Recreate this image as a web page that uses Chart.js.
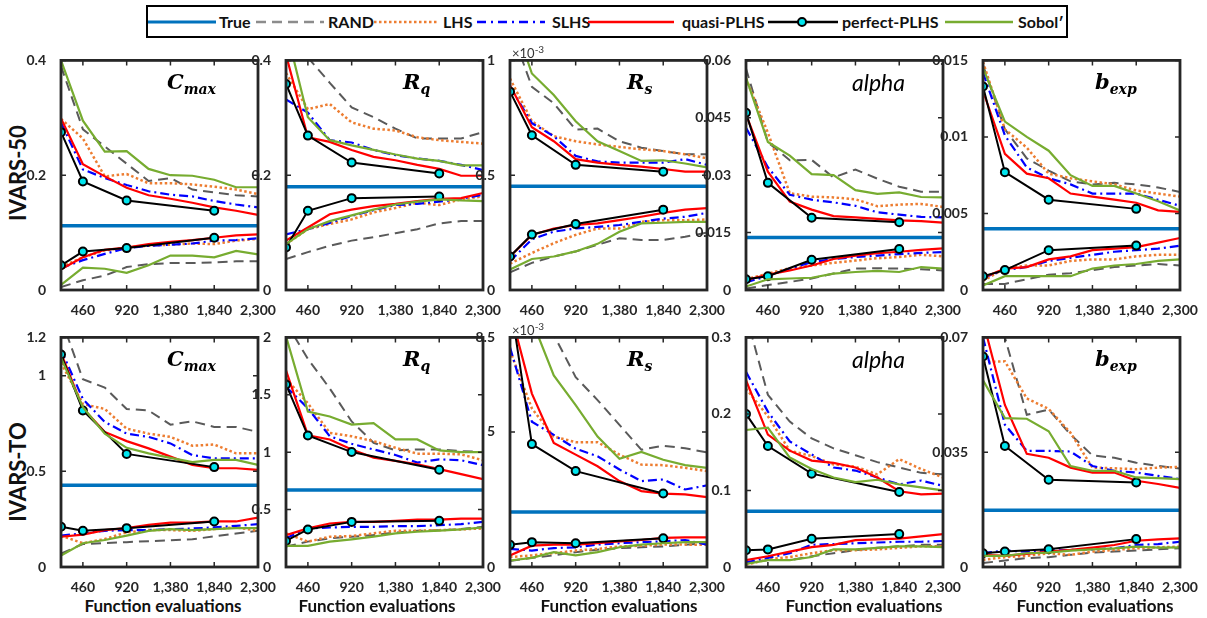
<!DOCTYPE html>
<html>
<head>
<meta charset="utf-8">
<script src="https://cdn.jsdelivr.net/npm/chart.js@4.4.1/dist/chart.umd.min.js"></script>
<style>
body { margin:0; background:#fff; width:1207px; height:618px; position:relative; overflow:hidden; font-family:Lato, 'Open Sans', sans-serif; color:#262626; }
canvas { position:absolute; }
.legend { position:absolute; left:146px; top:5px; width:922px; height:33px; box-sizing:border-box; border:2px solid #000; }
.legend svg, .legend span { position:absolute; }
.legend svg { top:9px; }
.legend span { top:5px; font-weight:bold; font-size:16px; color:#111; line-height:1.2; white-space:nowrap; }
.title { position:absolute; white-space:nowrap; line-height:1; color:#000; }
.title.math { font-family:'DejaVu Serif', serif; font-weight:bold; font-style:italic; font-size:21px; }
.title.math sub { font-size:14px; vertical-align:-5px; }
.title.plain { font-family:Lato, sans-serif; font-style:italic; font-size:23px; }
.mult { position:absolute; font-size:13px; color:#333; }
.mult sup { font-size:10px; }
.rowlab { position:absolute; font-weight:bold; font-size:22px; color:#111; transform:translate(-50%,-50%) rotate(-90deg); white-space:nowrap; }
.xlab { position:absolute; top:595px; font-weight:bold; font-size:17px; color:#111; transform:translateX(-50%); white-space:nowrap; }
</style>
</head>
<body>
<div class="legend">
  <svg style="left:0px" width="68" height="12"><line x1="0" y1="6" x2="68" y2="6" stroke="rgb(0,114,189)" stroke-width="3"/></svg>
  <span style="left:71px">True</span>
  <svg style="left:108px" width="68" height="12"><line x1="0" y1="6" x2="68" y2="6" stroke="rgb(140,140,140)" stroke-width="2.5" stroke-dasharray="10,6"/></svg>
  <span style="left:180px">RAND</span>
  <svg style="left:226px" width="64" height="12"><line x1="0" y1="6" x2="64" y2="6" stroke="rgb(237,125,49)" stroke-width="2.5" stroke-dasharray="2.5,2.5"/></svg>
  <span style="left:295px">LHS</span>
  <svg style="left:329px" width="68" height="12"><line x1="0" y1="6" x2="68" y2="6" stroke="rgb(0,0,255)" stroke-width="2.5" stroke-dasharray="9,5,2,5"/></svg>
  <span style="left:404px">SLHS</span>
  <svg style="left:440px" width="86" height="12"><line x1="0" y1="6" x2="86" y2="6" stroke="rgb(255,0,0)" stroke-width="2.5"/></svg>
  <span style="left:534px">quasi-PLHS</span>
  <svg style="left:620px" width="70" height="12"><line x1="0" y1="6" x2="70" y2="6" stroke="#000" stroke-width="2.5"/><circle cx="34" cy="6" r="4" fill="rgb(0,229,238)" stroke="#000" stroke-width="2"/></svg>
  <span style="left:694px">perfect-PLHS</span>
  <svg style="left:797px" width="68" height="12"><line x1="0" y1="6" x2="68" y2="6" stroke="rgb(119,172,48)" stroke-width="2.5"/></svg>
  <span style="left:870px">Sobol′</span>
</div>
<div class="rowlab" style="left:17px; top:173px">IVARS-50</div>
<div class="rowlab" style="left:17px; top:472px">IVARS-TO</div>
<script>
// panels: IVARS-50 Cmax, Rq, Rs(x1e-3), alpha, bexp, then IVARS-TO Cmax, Rq, Rs(x1e-3), alpha, bexp
const xs = [230, 460, 690, 920, 1150, 1380, 1610, 1840, 2070, 2300];
const xsPerfect = [230, 460, 920, 1840];
const xTicks = [460, 920, 1380, 1840, 2300];

const titles = [['C', 'max'], ['R', 'q'], ['R', 's'], ['alpha', ''], ['b', 'exp']];
const yMax = [0.4, 0.4, 1, 0.06, 0.015, 1.2, 2, 8.5, 0.3, 0.07];
const yTicks = [
  [0, 0.2, 0.4], [0, 0.2, 0.4], [0, 0.5, 1], [0, 0.015, 0.03, 0.045, 0.06], [0, 0.005, 0.01, 0.015],
  [0, 0.5, 1, 1.2], [0, 0.5, 1, 1.5, 2], [0, 5, 8.5], [0, 0.1, 0.2, 0.3], [0, 0.035, 0.07]
];

const trueValues = [0.112, 0.18, 0.452, 0.0137, 0.004, 0.427, 0.671, 2.04, 0.0727, 0.0173];

const randUpper = [
  [0.39, 0.28, 0.25, 0.22, 0.19, 0.195, 0.175, 0.17, 0.165, 0.163],
  [0.48, 0.405, 0.361, 0.318, 0.301, 0.281, 0.264, 0.264, 0.264, 0.275],
  [1.15, 0.885, 0.813, 0.699, 0.703, 0.648, 0.62, 0.605, 0.591, 0.591],
  [0.0579, 0.0386, 0.0339, 0.034, 0.0294, 0.0315, 0.0291, 0.027, 0.0257, 0.0257],
  [0.0147, 0.0105, 0.0086, 0.0078, 0.0071, 0.0069, 0.007, 0.0069, 0.0067, 0.0064],
  [1.3, 0.981, 0.938, 0.826, 0.818, 0.744, 0.761, 0.732, 0.732, 0.706],
  [2.13, 1.813, 1.555, 1.268, 1.082, 1.016, 1.024, 1.024, 1.01, 1.001],
  [12, 9.8, 8.6, 7.03, 6.18, 5.26, 4.34, 4.49, 4.4, 4.24],
  [0.33, 0.225, 0.19, 0.168, 0.155, 0.146, 0.137, 0.13, 0.123, 0.121],
  [0.085, 0.07, 0.0464, 0.048, 0.0404, 0.034, 0.0333, 0.0318, 0.0308, 0.03]
];
const randLower = [
  [0.005, 0.017, 0.025, 0.04, 0.045, 0.047, 0.047, 0.048, 0.05, 0.05],
  [0.054, 0.066, 0.077, 0.086, 0.092, 0.099, 0.106, 0.116, 0.12, 0.12],
  [0.077, 0.118, 0.146, 0.168, 0.197, 0.225, 0.218, 0.218, 0.232, 0.25],
  [0.0004, 0.0013, 0.0021, 0.003, 0.0043, 0.0056, 0.0057, 0.0056, 0.0054, 0.0051],
  [0.0004, 0.0004, 0.0007, 0.001, 0.0011, 0.0013, 0.0015, 0.0016, 0.0017, 0.0016],
  [0.07, 0.12, 0.125, 0.13, 0.135, 0.14, 0.145, 0.16, 0.175, 0.19],
  [0.178, 0.221, 0.25, 0.264, 0.278, 0.3, 0.315, 0.321, 0.33, 0.35],
  [0.22, 0.34, 0.43, 0.55, 0.64, 0.7, 0.73, 0.76, 0.82, 0.88],
  [0.005, 0.009, 0.009, 0.014, 0.018, 0.022, 0.025, 0.027, 0.029, 0.029],
  [0.0012, 0.002, 0.0027, 0.003, 0.0037, 0.0044, 0.0047, 0.005, 0.0054, 0.0057]
];
const lhsUpper = [
  [0.298, 0.264, 0.198, 0.202, 0.186, 0.186, 0.184, 0.18, 0.175, 0.167],
  [0.378, 0.315, 0.324, 0.292, 0.281, 0.278, 0.266, 0.261, 0.258, 0.255],
  [0.921, 0.735, 0.67, 0.648, 0.634, 0.623, 0.613, 0.605, 0.591, 0.574],
  [0.0553, 0.0411, 0.0253, 0.0244, 0.0242, 0.0237, 0.0219, 0.0223, 0.0225, 0.0217],
  [0.0149, 0.0105, 0.0093, 0.0076, 0.0073, 0.0071, 0.0069, 0.0065, 0.0063, 0.0061],
  [1.067, 0.852, 0.826, 0.723, 0.697, 0.68, 0.634, 0.64, 0.594, 0.594],
  [1.641, 1.426, 1.168, 1.139, 1.096, 1.039, 0.987, 0.987, 0.981, 0.93],
  [8.01, 5.87, 4.83, 4.62, 4.62, 4.16, 3.79, 3.77, 3.67, 3.55],
  [0.233, 0.197, 0.152, 0.145, 0.134, 0.131, 0.121, 0.141, 0.128, 0.117],
  [0.0625, 0.0627, 0.0514, 0.0482, 0.0409, 0.0303, 0.0301, 0.0298, 0.0303, 0.0305]
];
const lhsLower = [
  [0.04, 0.057, 0.069, 0.074, 0.077, 0.079, 0.081, 0.08, 0.086, 0.089],
  [0.08, 0.106, 0.115, 0.123, 0.135, 0.143, 0.152, 0.148, 0.158, 0.163],
  [0.115, 0.161, 0.204, 0.24, 0.268, 0.268, 0.297, 0.304, 0.304, 0.307],
  [0.0028, 0.0043, 0.0057, 0.0064, 0.0071, 0.0077, 0.0083, 0.0086, 0.0092, 0.0088],
  [0.0006, 0.0014, 0.0016, 0.0016, 0.0019, 0.002, 0.002, 0.0022, 0.0023, 0.0023],
  [0.164, 0.124, 0.146, 0.181, 0.193, 0.193, 0.189, 0.198, 0.207, 0.189],
  [0.293, 0.221, 0.264, 0.27, 0.293, 0.316, 0.316, 0.321, 0.327, 0.336],
  [0.37, 0.43, 0.51, 0.61, 0.67, 0.76, 0.79, 0.83, 0.83, 0.82],
  [0.003, 0.01, 0.013, 0.018, 0.022, 0.022, 0.023, 0.025, 0.027, 0.027],
  [0.0022, 0.003, 0.0034, 0.0042, 0.0037, 0.0047, 0.0052, 0.0057, 0.006, 0.0062]
];
const slhsUpper = [
  [0.292, 0.21, 0.195, 0.183, 0.172, 0.166, 0.163, 0.155, 0.149, 0.144],
  [0.332, 0.309, 0.261, 0.257, 0.244, 0.235, 0.229, 0.225, 0.218, 0.209],
  [0.885, 0.727, 0.67, 0.584, 0.56, 0.555, 0.555, 0.555, 0.57, 0.545],
  [0.0424, 0.0321, 0.0249, 0.0236, 0.0229, 0.022, 0.0203, 0.0197, 0.0191, 0.019],
  [0.0142, 0.0101, 0.008, 0.0073, 0.0069, 0.0063, 0.0063, 0.0063, 0.0059, 0.0055],
  [1.136, 0.878, 0.758, 0.697, 0.68, 0.646, 0.585, 0.568, 0.568, 0.568],
  [1.57, 1.383, 1.139, 1.073, 1.024, 0.976, 0.91, 0.938, 0.93, 0.887],
  [8.13, 5.38, 4.89, 4.38, 4.1, 3.61, 3.18, 3.24, 2.87, 3.02],
  [0.255, 0.203, 0.164, 0.147, 0.13, 0.126, 0.117, 0.108, 0.113, 0.106],
  [0.07, 0.0434, 0.0354, 0.0354, 0.0352, 0.0308, 0.0293, 0.0288, 0.0278, 0.0268]
];
const slhsLower = [
  [0.038, 0.052, 0.063, 0.073, 0.077, 0.079, 0.081, 0.086, 0.087, 0.09],
  [0.097, 0.106, 0.117, 0.129, 0.139, 0.148, 0.15, 0.154, 0.159, 0.166],
  [0.125, 0.221, 0.254, 0.268, 0.275, 0.283, 0.297, 0.311, 0.319, 0.336],
  [0.002, 0.0037, 0.0056, 0.0073, 0.0081, 0.0086, 0.009, 0.0094, 0.0097, 0.0099],
  [0.0008, 0.0013, 0.0015, 0.0019, 0.0021, 0.0023, 0.0025, 0.0026, 0.0027, 0.0029],
  [0.164, 0.176, 0.189, 0.193, 0.193, 0.198, 0.201, 0.207, 0.215, 0.224],
  [0.25, 0.336, 0.344, 0.35, 0.35, 0.356, 0.356, 0.364, 0.373, 0.393],
  [0.67, 0.61, 0.7, 0.73, 0.83, 0.88, 0.92, 0.95, 1.0, 0.83],
  [0.006, 0.012, 0.018, 0.029, 0.03, 0.031, 0.032, 0.033, 0.033, 0.034],
  [0.0042, 0.005, 0.0047, 0.005, 0.0052, 0.0054, 0.0057, 0.0067, 0.007, 0.0077]
];
const quasiUpper = [
  [0.299, 0.219, 0.198, 0.178, 0.165, 0.159, 0.152, 0.144, 0.138, 0.131],
  [0.41, 0.266, 0.258, 0.244, 0.232, 0.226, 0.218, 0.211, 0.199, 0.199],
  [0.892, 0.709, 0.648, 0.57, 0.555, 0.545, 0.537, 0.527, 0.516, 0.516],
  [0.0459, 0.0309, 0.0231, 0.021, 0.0193, 0.019, 0.0186, 0.0182, 0.018, 0.0176],
  [0.013, 0.0089, 0.0076, 0.0073, 0.0063, 0.0061, 0.0059, 0.0057, 0.0052, 0.0051],
  [1.119, 0.83, 0.706, 0.658, 0.62, 0.577, 0.534, 0.516, 0.516, 0.508],
  [1.713, 1.148, 1.111, 1.024, 0.953, 0.924, 0.895, 0.852, 0.809, 0.766],
  [9.5, 6.42, 4.59, 4.16, 3.73, 3.18, 2.81, 2.72, 2.69, 2.59],
  [0.244, 0.173, 0.152, 0.139, 0.136, 0.13, 0.117, 0.099, 0.095, 0.096],
  [0.075, 0.0494, 0.0345, 0.0333, 0.0303, 0.0288, 0.0288, 0.0263, 0.0253, 0.0241]
];
const quasiLower = [
  [0.036, 0.057, 0.07, 0.074, 0.08, 0.084, 0.087, 0.091, 0.095, 0.097],
  [0.086, 0.109, 0.132, 0.14, 0.146, 0.15, 0.155, 0.159, 0.16, 0.169],
  [0.146, 0.24, 0.268, 0.283, 0.29, 0.304, 0.319, 0.336, 0.35, 0.357],
  [0.0026, 0.004, 0.0051, 0.0064, 0.0081, 0.009, 0.0096, 0.01, 0.0105, 0.0109],
  [0.0008, 0.0014, 0.0015, 0.002, 0.0022, 0.0026, 0.0027, 0.0028, 0.0031, 0.0034],
  [0.158, 0.169, 0.193, 0.203, 0.22, 0.232, 0.232, 0.238, 0.238, 0.258],
  [0.278, 0.336, 0.379, 0.393, 0.393, 0.402, 0.413, 0.413, 0.422, 0.422],
  [0.43, 0.79, 0.83, 0.83, 0.88, 0.95, 1.0, 1.08, 1.1, 1.1],
  [0.009, 0.014, 0.02, 0.026, 0.029, 0.035, 0.036, 0.037, 0.04, 0.043],
  [0.0037, 0.0034, 0.004, 0.0047, 0.0052, 0.0059, 0.0067, 0.008, 0.0084, 0.0087]
];
const perfectUpper = [
  [0.275, 0.189, 0.156, 0.138],
  [0.359, 0.269, 0.222, 0.203],
  [0.864, 0.674, 0.545, 0.515],
  [0.0463, 0.028, 0.0189, 0.0177],
  [0.0133, 0.0077, 0.0059, 0.0053],
  [1.11, 0.818, 0.591, 0.522],
  [1.59, 1.145, 1.001, 0.847],
  [9.9, 4.55, 3.55, 2.72],
  [0.2, 0.158, 0.122, 0.098],
  [0.0642, 0.0369, 0.0266, 0.0258]
];
const perfectLower = [
  [0.043, 0.067, 0.073, 0.091],
  [0.074, 0.138, 0.16, 0.163],
  [0.146, 0.242, 0.287, 0.35],
  [0.0028, 0.0036, 0.0079, 0.0107],
  [0.0009, 0.0013, 0.0026, 0.0029],
  [0.21, 0.189, 0.203, 0.238],
  [0.227, 0.327, 0.393, 0.402],
  [0.82, 0.92, 0.88, 1.06],
  [0.022, 0.023, 0.037, 0.043],
  [0.0042, 0.0047, 0.0054, 0.0085]
];
const sobolUpper = [
  [0.4, 0.295, 0.241, 0.242, 0.211, 0.2, 0.199, 0.192, 0.179, 0.179],
  [0.456, 0.301, 0.261, 0.252, 0.244, 0.236, 0.229, 0.225, 0.217, 0.217],
  [1.22, 0.943, 0.849, 0.735, 0.648, 0.605, 0.562, 0.565, 0.551, 0.534],
  [0.0555, 0.0387, 0.0351, 0.0303, 0.03, 0.0261, 0.0251, 0.0255, 0.0243, 0.0242],
  [0.0145, 0.011, 0.01, 0.0091, 0.0075, 0.0068, 0.0068, 0.0063, 0.0058, 0.0052],
  [1.093, 0.835, 0.697, 0.623, 0.594, 0.57, 0.548, 0.56, 0.56, 0.534],
  [2.01, 1.354, 1.311, 1.24, 1.254, 1.111, 1.111, 1.016, 1.001, 1.001],
  [12, 9.14, 7.09, 5.99, 4.83, 4.01, 4.26, 3.97, 3.77, 3.67],
  [0.179, 0.182, 0.143, 0.128, 0.117, 0.111, 0.114, 0.108, 0.104, 0.1],
  [0.0569, 0.0454, 0.0452, 0.0414, 0.0308, 0.0293, 0.0293, 0.0273, 0.0271, 0.0268]
];
const sobolLower = [
  [0.009, 0.039, 0.037, 0.03, 0.043, 0.06, 0.06, 0.057, 0.068, 0.062],
  [0.08, 0.106, 0.12, 0.13, 0.14, 0.149, 0.154, 0.158, 0.156, 0.155],
  [0.089, 0.135, 0.146, 0.168, 0.201, 0.254, 0.29, 0.293, 0.297, 0.297],
  [0.0009, 0.0028, 0.003, 0.0032, 0.0043, 0.0047, 0.005, 0.0047, 0.006, 0.0056],
  [0.0003, 0.0009, 0.0009, 0.0009, 0.0009, 0.0014, 0.0016, 0.0017, 0.0019, 0.002],
  [0.06, 0.124, 0.141, 0.164, 0.189, 0.198, 0.193, 0.198, 0.203, 0.203],
  [0.184, 0.184, 0.221, 0.241, 0.264, 0.293, 0.307, 0.316, 0.327, 0.344],
  [0.24, 0.34, 0.55, 0.43, 0.55, 0.73, 0.83, 0.88, 0.92, 0.92],
  [0.004, 0.009, 0.009, 0.013, 0.023, 0.023, 0.025, 0.027, 0.027, 0.026],
  [0.0034, 0.0034, 0.0042, 0.0044, 0.005, 0.0054, 0.0057, 0.0062, 0.0059, 0.006]
];

// layout of the plot boxes
const lefts = [61, 286, 510, 746, 983];
const tops = [57, 334];
const PW = 197, PH = 233, AXW = 55, PADT = 12, PADR = 22, AXH = 28;
const titleOffsets = [106, 117, 117, 106, 112];
const xlabCenters = [163, 377, 619, 864, 1095];

const methods = [
  { up: randUpper, lo: randLower, xv: xs, color: 'rgb(90,90,90)', dash: [10, 6], width: 2 },
  { up: lhsUpper, lo: lhsLower, xv: xs, color: 'rgb(237,125,49)', dash: [2.5, 2.5], width: 2.5 },
  { up: slhsUpper, lo: slhsLower, xv: xs, color: 'rgb(0,0,255)', dash: [9, 4, 2, 4], width: 2.2 },
  { up: quasiUpper, lo: quasiLower, xv: xs, color: 'rgb(255,0,0)', dash: [], width: 2.2 },
  { up: perfectUpper, lo: perfectLower, xv: xsPerfect, color: 'rgb(0,0,0)', dash: [], width: 2, marker: true },
  { up: sobolUpper, lo: sobolLower, xv: xs, color: 'rgb(119,172,48)', dash: [], width: 2.2 }
];

const pts = (xv, vals) => vals.map((v, i) => ({ x: xv[i], y: v }));

const framePlugin = {
  id: 'frame',
  afterDatasetsDraw(chart) {
    const { ctx, chartArea: a, scales: { x, y } } = chart;
    ctx.save();
    ctx.strokeStyle = '#262626';
    ctx.lineWidth = 1.5;
    ctx.beginPath();
    y.ticks.forEach(t => {
      const py = y.getPixelForValue(t.value);
      ctx.moveTo(a.left, py); ctx.lineTo(a.left + 5, py);
      ctx.moveTo(a.right, py); ctx.lineTo(a.right - 5, py);
    });
    x.ticks.forEach(t => {
      const px = x.getPixelForValue(t.value);
      ctx.moveTo(px, a.bottom); ctx.lineTo(px, a.bottom - 5);
      ctx.moveTo(px, a.top); ctx.lineTo(px, a.top + 5);
    });
    ctx.stroke();
    ctx.lineWidth = 2.8;
    ctx.strokeRect(a.left, a.top, a.width, a.height);
    ctx.restore();
  }
};

const tickFont = { family: 'Lato', weight: 'bold', size: 14 };

for (let p = 0; p < 10; p++) {
  const row = Math.floor(p / 5), col = p % 5;
  const L = lefts[col], T = tops[row];

  const cv = document.createElement('canvas');
  cv.width = AXW + PW + PADR;
  cv.height = PADT + PH + AXH;
  cv.style.left = (L - AXW) + 'px';
  cv.style.top = (T - PADT) + 'px';
  document.body.appendChild(cv);

  const datasets = [{
    data: [{ x: 230, y: trueValues[p] }, { x: 2300, y: trueValues[p] }],
    borderColor: 'rgb(0,114,189)', borderWidth: 3.5, pointRadius: 0, order: 10
  }];
  methods.forEach((m, k) => {
    [m.up, m.lo].forEach(arr => {
      datasets.push({
        data: pts(m.xv, arr[p]),
        borderColor: m.color,
        borderWidth: m.width,
        borderDash: m.dash,
        pointRadius: m.marker ? 4 : 0,
        pointBackgroundColor: 'rgb(0,229,238)',
        pointBorderColor: '#000',
        pointBorderWidth: 2,
        order: 9 - k
      });
    });
  });

  new Chart(cv, {
    type: 'line',
    data: { datasets },
    options: {
      responsive: false,
      animation: false,
      layout: { autoPadding: false, padding: { left: 0, top: PADT, right: PADR, bottom: 0 } },
      elements: { line: { tension: 0 } },
      plugins: { legend: { display: false }, tooltip: { enabled: false } },
      scales: {
        x: {
          type: 'linear', min: 230, max: 2300,
          grid: { display: false }, border: { display: false },
          afterBuildTicks: s => { s.ticks = xTicks.map(v => ({ value: v })); },
          afterFit: s => { s.height = AXH; },
          ticks: { font: tickFont, color: '#262626', padding: 4, maxRotation: 0, autoSkip: false,
                   callback: v => v.toLocaleString('en-US') }
        },
        y: {
          min: 0, max: yMax[p],
          grid: { display: false }, border: { display: false },
          afterBuildTicks: s => { s.ticks = yTicks[p].map(v => ({ value: v })); },
          afterFit: s => { s.width = AXW; },
          ticks: { font: tickFont, color: '#262626', padding: 7, autoSkip: false,
                   callback: v => String(v) }
        }
      }
    },
    plugins: [framePlugin]
  });

  // panel title
  const t = titles[col];
  const td = document.createElement('div');
  td.className = t[1] ? 'title math' : 'title plain';
  td.innerHTML = t[1] ? `${t[0]}<sub>${t[1]}</sub>` : t[0];
  td.style.left = (L + titleOffsets[col]) + 'px';
  td.style.top = (T + 14) + 'px';
  document.body.appendChild(td);

  if (col === 2) {
    const md = document.createElement('div');
    md.className = 'mult';
    md.innerHTML = '×10<sup>-3</sup>';
    md.style.left = (L + 2) + 'px';
    md.style.top = (T - 14) + 'px';
    document.body.appendChild(md);
  }
  if (row === 1) {
    const xd = document.createElement('div');
    xd.className = 'xlab';
    xd.textContent = 'Function evaluations';
    xd.style.left = xlabCenters[col] + 'px';
    document.body.appendChild(xd);
  }
}
</script>
</body>
</html>
